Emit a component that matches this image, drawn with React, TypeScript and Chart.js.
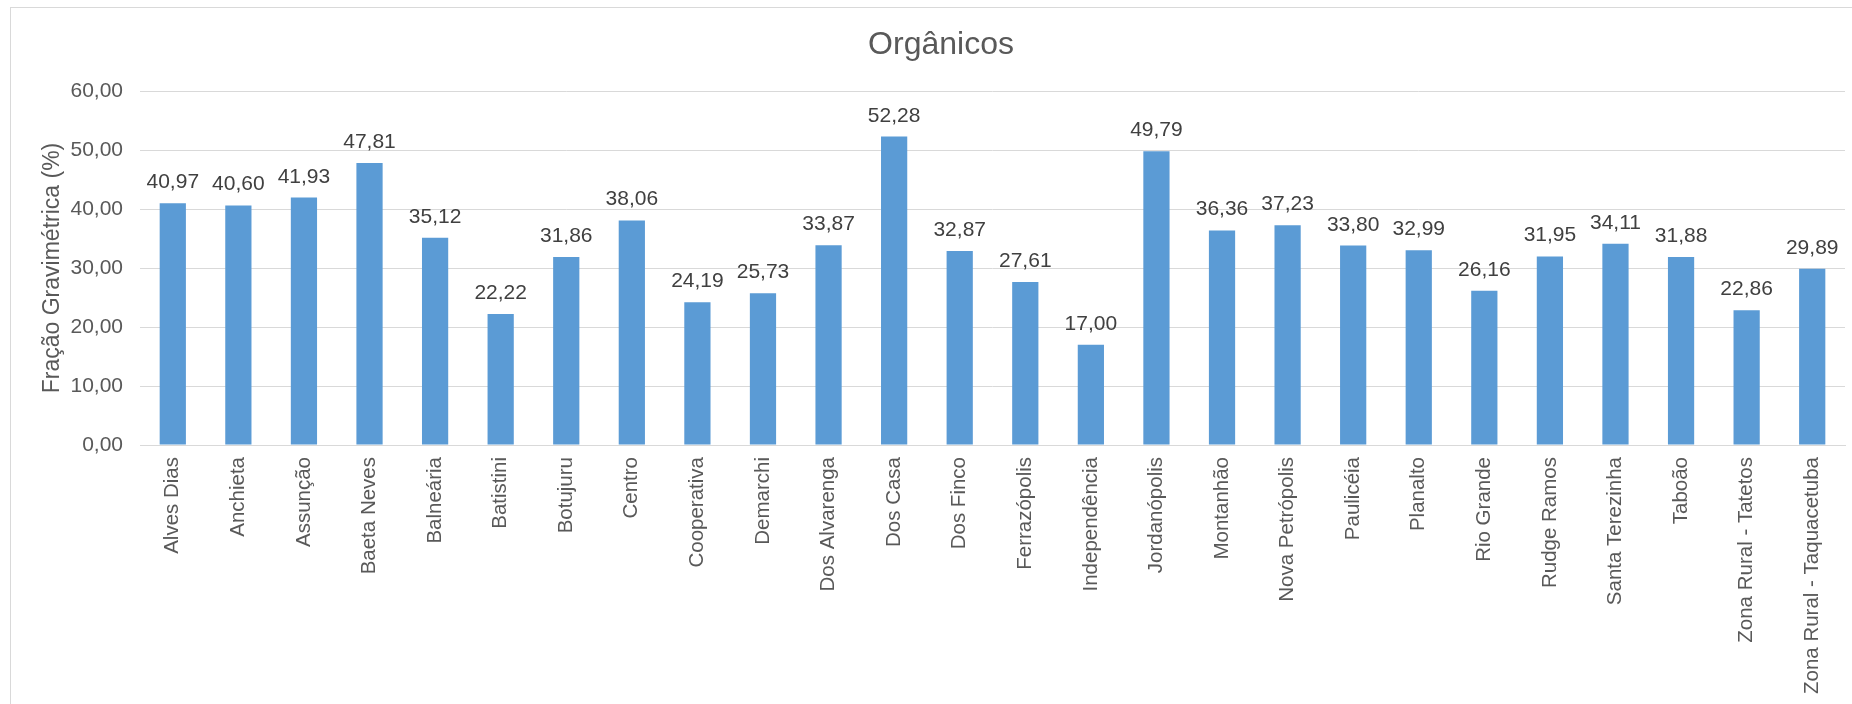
import React, { useEffect, useRef } from "react";
import { Chart, registerables } from "chart.js";

Chart.register(...registerables);

const categories = [
  "Alves Dias",
  "Anchieta",
  "Assunção",
  "Baeta Neves",
  "Balneária",
  "Batistini",
  "Botujuru",
  "Centro",
  "Cooperativa",
  "Demarchi",
  "Dos Alvarenga",
  "Dos Casa",
  "Dos Finco",
  "Ferrazópolis",
  "Independência",
  "Jordanópolis",
  "Montanhão",
  "Nova Petrópolis",
  "Paulicéia",
  "Planalto",
  "Rio Grande",
  "Rudge Ramos",
  "Santa Terezinha",
  "Taboão",
  "Zona Rural - Tatetos",
  "Zona Rural - Taquacetuba",
];

const organicos = [
  40.97, 40.6, 41.93, 47.81, 35.12, 22.22, 31.86, 38.06, 24.19, 25.73, 33.87,
  52.28, 32.87, 27.61, 17.0, 49.79, 36.36, 37.23, 33.8, 32.99, 26.16, 31.95,
  34.11, 31.88, 22.86, 29.89,
];

const yMin = 0;
const yMax = 60;
const yStep = 10;

const chartTitle = "Orgânicos";
const yTitle = "Fração Gravimétrica (%)";

const FONT = '"Liberation Sans", Arial, Helvetica, sans-serif';

const fmt = (v: number) => v.toFixed(2).replace(".", ",");

const dataLabels = {
  id: "dataLabels",
  afterDatasetsDraw(chart: any) {
    const ctx = chart.ctx;
    const meta = chart.getDatasetMeta(0);
    const values = chart.data.datasets[0].data as number[];
    ctx.save();
    ctx.font = `21px ${FONT}`;
    ctx.fillStyle = "#404040";
    ctx.textAlign = "center";
    ctx.textBaseline = "alphabetic";
    meta.data.forEach((bar: any, i: number) => {
      ctx.fillText(fmt(values[i]), bar.x, bar.y - 15);
    });
    ctx.restore();
  },
};

export default function App() {
  const ref = useRef<HTMLCanvasElement | null>(null);

  useEffect(() => {
    if (!ref.current) return;
    const chart = new Chart(ref.current, {
      type: "bar",
      data: {
        labels: categories,
        datasets: [
          {
            label: chartTitle,
            data: organicos,
            backgroundColor: "#5B9BD5",
            borderWidth: 0,
            barPercentage: 0.4,
            categoryPercentage: 1,
          },
        ],
      },
      plugins: [dataLabels],
      options: {
        responsive: false,
        animation: false,
        devicePixelRatio: 1,
        layout: { padding: { left: 26, right: 26, top: 0, bottom: 0 } },
        plugins: {
          legend: { display: false },
          tooltip: { enabled: false },
          title: {
            display: true,
            text: chartTitle,
            color: "#595959",
            font: { family: FONT, size: 32, weight: "normal", lineHeight: 1.2 },
            padding: { top: 18, bottom: 26.6 },
          },
        },
        scales: {
          x: {
            grid: { display: false, drawTicks: false },
            border: { display: true, color: "#D9D9D9", width: 1 },
            ticks: {
              autoSkip: false,
              minRotation: 90,
              maxRotation: 90,
              padding: 12,
              color: "#595959",
              font: { family: FONT, size: 20.5 },
            },
            afterFit: (s: any) => {
              s.height = 283;
            },
          },
          y: {
            min: yMin,
            max: yMax,
            ticks: {
              stepSize: yStep,
              padding: 17,
              color: "#595959",
              font: { family: FONT, size: 21 },
              callback: (v: any) => fmt(Number(v)),
            },
            grid: { color: "#D9D9D9", lineWidth: 1, drawTicks: false },
            border: { display: false },
            title: {
              display: true,
              text: yTitle,
              color: "#595959",
              font: { family: FONT, size: 23, lineHeight: 1.2 },
              padding: { top: 2, bottom: 0 },
            },
            afterFit: (s: any) => {
              s.width = 103;
            },
          },
        },
      },
    });
    return () => chart.destroy();
  }, []);

  return (
    <div
      style={{
        position: "absolute",
        left: 0,
        top: 0,
        width: 1852,
        height: 704,
        overflow: "hidden",
        background: "#ffffff",
      }}
    >
      <div
        style={{
          position: "absolute",
          left: 10,
          top: 7,
          width: 1860,
          height: 720,
          border: "1px solid #D9D9D9",
          background: "#ffffff",
        }}
      >
        <canvas ref={ref} width={1860} height={720} style={{ display: "block" }} />
      </div>
    </div>
  );
}
